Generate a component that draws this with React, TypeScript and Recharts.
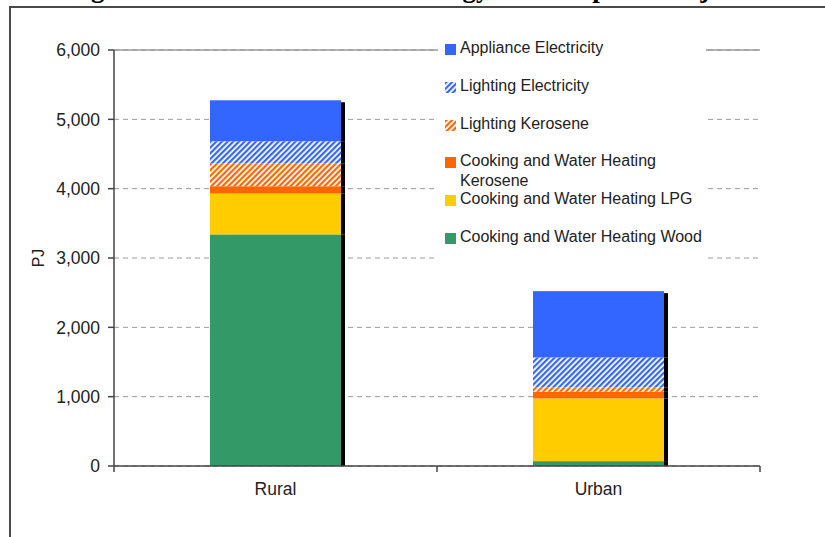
import React from 'react';
import { BarChart, Bar, XAxis, YAxis, CartesianGrid, ReferenceLine } from 'recharts';

const categories = ['Rural', 'Urban'];
const woodValues = [3340, 70];
const lpgValues = [590, 905];
const cookKeroseneValues = [105, 95];
const lightKeroseneValues = [327, 63];
const lightElecValues = [322, 433];
const applianceValues = [591, 956];
const yTicks = [0, 1000, 2000, 3000, 4000, 5000, 6000];

const titleText = 'Figure 5.4: Rural and Urban Energy Consumption Projections';

const series = [
  { key: 'wood', name: 'Cooking and Water Heating Wood', fill: '#339966', values: woodValues },
  { key: 'lpg', name: 'Cooking and Water Heating LPG', fill: '#FFCC00', values: lpgValues },
  { key: 'cookKer', name: 'Cooking and Water Heating\nKerosene', fill: '#FF6600', values: cookKeroseneValues },
  { key: 'lightKer', name: 'Lighting Kerosene', fill: 'url(#hatchOrange)', values: lightKeroseneValues },
  { key: 'lightElec', name: 'Lighting Electricity', fill: 'url(#hatchBlue)', values: lightElecValues },
  { key: 'appliance', name: 'Appliance Electricity', fill: '#3366FF', values: applianceValues },
];

const data = categories.map((c, i) => {
  const row: any = { category: c };
  series.forEach((s) => {
    row[s.key] = s.values[i];
  });
  return row;
});

const FONT = '"Liberation Sans", Arial, sans-serif';
const TICK_SIZE = 6;
const TICK_MARGIN = 11;

const makeShape = (isTop: boolean) => (props: any) => {
  const { x, y, width, height, fill } = props;
  const sy = isTop ? y + 2 : y;
  return (
    <g>
      <rect x={x + width} y={sy} width={4} height={Math.max(0, y + height - sy)} fill="#000" />
      <rect x={x} y={y} width={width} height={height} fill={fill} />
    </g>
  );
};

const CategoryTick = (props: any) => {
  const { x, y, payload, index } = props;
  const half = payload && payload.offset ? payload.offset : 0;
  const axisY = y - TICK_SIZE - TICK_MARGIN;
  return (
    <g>
      {index === 0 && (
        <line x1={x - half} x2={x - half} y1={axisY} y2={axisY + TICK_SIZE} stroke="#444" strokeWidth={1.5} />
      )}
      <line x1={x + half} x2={x + half} y1={axisY} y2={axisY + TICK_SIZE} stroke="#444" strokeWidth={1.5} />
      <text
        x={x}
        y={y}
        dy="0.71em"
        textAnchor="middle"
        fill="#222"
        fontSize={17.5}
        fontFamily={FONT}
      >
        {payload.value}
      </text>
    </g>
  );
};

const Patterns = () => (
  <defs>
    <pattern id="hatchBlue" patternUnits="userSpaceOnUse" width="4" height="4" patternTransform="rotate(45)">
      <rect x="0" y="0" width="4" height="4" fill="#ffffff" />
      <rect x="0" y="0" width="2.2" height="4" fill="#3366FF" />
    </pattern>
    <pattern id="hatchOrange" patternUnits="userSpaceOnUse" width="4" height="4" patternTransform="rotate(45)">
      <rect x="0" y="0" width="4" height="4" fill="#ffffff" />
      <rect x="0" y="0" width="2.2" height="4" fill="#FF6600" />
    </pattern>
  </defs>
);

const legendItems = [...series].reverse();

export default function App() {
  return (
    <div
      style={{
        position: 'absolute',
        left: 0,
        top: 0,
        width: 825,
        height: 537,
        background: '#fff',
        overflow: 'hidden',
        fontFamily: FONT,
      }}
    >
      {/* clipped document title */}
      <div style={{ position: 'absolute', left: 0, top: 0, width: 825, height: 6, overflow: 'hidden' }}>
        <div
          style={{
            position: 'absolute',
            left: 67,
            bottom: 4,
            fontFamily: '"Liberation Serif", "Times New Roman", serif',
            fontWeight: 'bold',
            fontSize: 27,
            lineHeight: '27px',
            whiteSpace: 'nowrap',
            color: '#000',
          }}
        >
          {titleText}
        </div>
      </div>
      {/* document frame */}
      <div style={{ position: 'absolute', left: 9, top: 6, width: 816, height: 2, background: '#4a4a4a' }} />
      <div style={{ position: 'absolute', left: 9, top: 6, width: 2, height: 531, background: '#4a4a4a' }} />

      <div style={{ position: 'absolute', left: 0, top: 0 }}>
        <BarChart
          width={825}
          height={537}
          data={data}
          margin={{ top: 50, right: 65, bottom: 31, left: 0 }}
          style={{ fontFamily: FONT }}
        >
          <Patterns />
          <CartesianGrid vertical={false} stroke="#9a9a9a" strokeDasharray="5 4" />
          <XAxis
            dataKey="category"
            axisLine={{ stroke: '#444', strokeWidth: 1.5 }}
            tickLine={false}
            tick={<CategoryTick />}
            tickSize={TICK_SIZE}
            tickMargin={TICK_MARGIN}
            height={40}
          />
          <YAxis
            domain={[0, 6000]}
            ticks={yTicks}
            tickFormatter={(v: number) => v.toLocaleString('en-US')}
            width={114}
            axisLine={{ stroke: '#444', strokeWidth: 1.5 }}
            tickLine={{ stroke: '#444', strokeWidth: 1.5 }}
            tickSize={6}
            tickMargin={8}
            tick={{ fill: '#222', fontSize: 17.5, fontFamily: FONT }}
            label={{
              value: 'PJ',
              angle: -90,
              position: 'insideLeft',
              offset: 38,
              style: { textAnchor: 'middle' },
              fill: '#222',
              fontSize: 16,
              fontFamily: FONT,
            }}
          />
          <YAxis
            yAxisId="r"
            orientation="right"
            domain={[0, 6000]}
            width={0}
            tick={false}
            tickLine={false}
            axisLine={{ stroke: '#9a9a9a', strokeWidth: 1.5 }}
          />
          <ReferenceLine y={6000} stroke="#9a9a9a" strokeWidth={1.5} />
          {series.map((s, i) => (
            <Bar
              key={s.key}
              dataKey={s.key}
              name={s.name}
              stackId="s"
              fill={s.fill}
              barSize={131}
              isAnimationActive={false}
              shape={makeShape(i === series.length - 1)}
            />
          ))}
        </BarChart>
      </div>

      {/* legend */}
      <div
        style={{
          position: 'absolute',
          left: 438,
          top: 30,
          width: 268,
          height: 238,
          background: '#fff',
        }}
      >
        {legendItems.map((s, i) => {
          const center = 18 + i * 37.8;
          return (
            <React.Fragment key={s.key}>
              <svg
                width={11}
                height={11}
                style={{ position: 'absolute', left: 7, top: center - 4 }}
              >
                <rect x={0} y={0} width={11} height={11} fill={s.fill} />
              </svg>
              <div
                style={{
                  position: 'absolute',
                  left: 22,
                  top: center - 10,
                  fontSize: 16,
                  lineHeight: '20px',
                  color: '#222',
                  whiteSpace: 'pre-line',
                }}
              >
                {s.name}
              </div>
            </React.Fragment>
          );
        })}
      </div>
    </div>
  );
}
